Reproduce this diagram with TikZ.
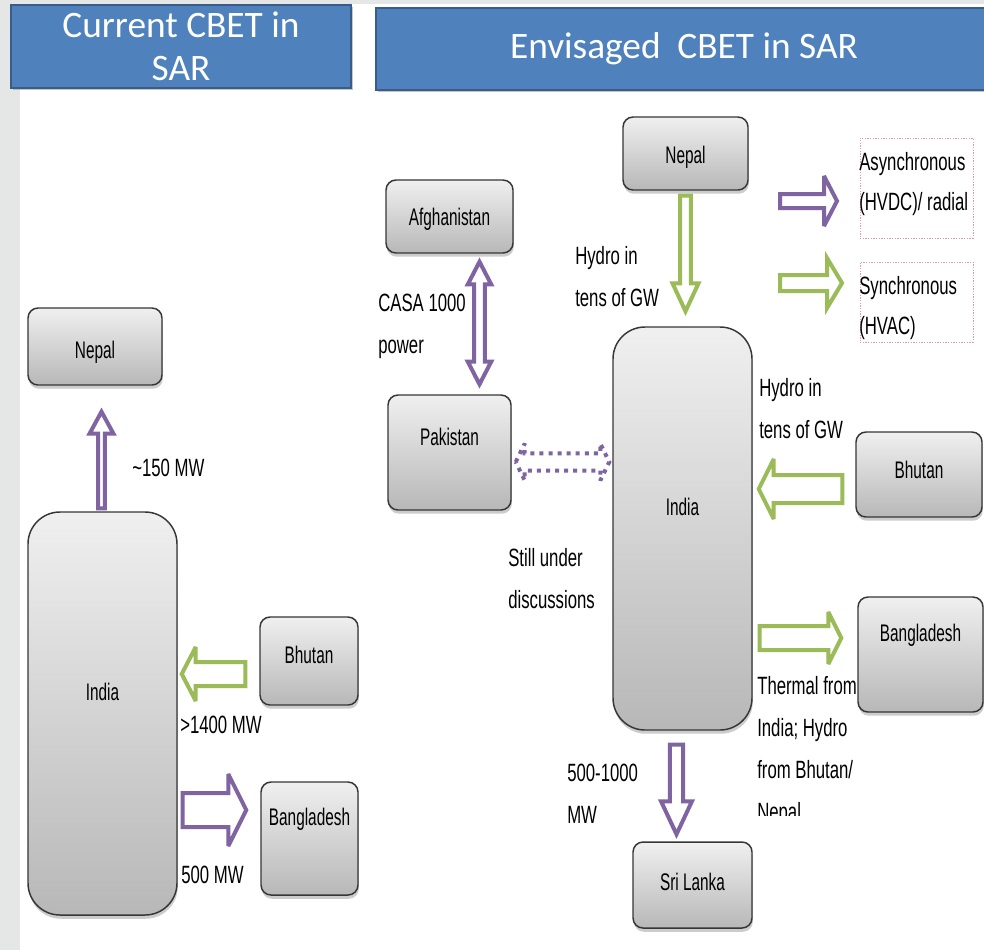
\documentclass[tikz,border=0pt]{standalone}
\usepackage{fontspec}
\setmainfont{Liberation Sans}
\newfontfamily\headfont{Carlito}
\newfontfamily\lblfont[FakeStretch=0.67]{Liberation Sans}
\newfontfamily\cntfont[FakeStretch=0.64]{Liberation Sans}
\usetikzlibrary{calc,shadows}

\definecolor{hdrblue}{HTML}{4F81BD}
\definecolor{hdredge}{HTML}{385D8A}
\definecolor{hvdc}{HTML}{8064A2}
\definecolor{hvac}{HTML}{9BBB59}
\definecolor{boxedge}{HTML}{363636}
\definecolor{legedge}{HTML}{E59AA4}
\definecolor{sidebg}{HTML}{E5E7E7}
\newdimen\pxu \pxu=0.75pt

\tikzset{
  shaftw/.store in=\arShaft, headw/.store in=\arHead, headl/.store in=\arLen,
  shaftw=3pt, headw=9pt, headl=12pt,
  % hollow block arrow from the start point to the tip
  blockarrow/.style={line width=3pt, fill=white, line join=miter, miter limit=4,
    to path={let \p1=(\tikztostart), \p2=(\tikztotarget), \p3=($(\p2)!\arLen!(\p1)$) in
      ($(\p1)!\arShaft!90:(\p2)$) -- ($(\p3)!\arShaft!90:(\p2)$) -- ($(\p3)!\arHead!90:(\p2)$)
      -- (\p2) -- ($(\p3)!\arHead!-90:(\p2)$) -- ($(\p3)!\arShaft!-90:(\p2)$)
      -- ($(\p1)!\arShaft!-90:(\p2)$) -- cycle}},
  % hollow block arrow with a head at both ends
  twinarrow/.style={line width=3pt, fill=white, line join=miter, miter limit=4,
    to path={let \p1=(\tikztostart), \p2=(\tikztotarget), \p3=($(\p2)!\arLen!(\p1)$),
      \p4=($(\p1)!\arLen!(\p2)$) in
      (\p1) -- ($(\p4)!\arHead!90:(\p2)$) -- ($(\p4)!\arShaft!90:(\p2)$)
      -- ($(\p3)!\arShaft!90:(\p2)$) -- ($(\p3)!\arHead!90:(\p2)$) -- (\p2)
      -- ($(\p3)!\arHead!-90:(\p2)$) -- ($(\p3)!\arShaft!-90:(\p2)$)
      -- ($(\p4)!\arShaft!-90:(\p2)$) -- ($(\p4)!\arHead!-90:(\p2)$) -- cycle}},
  dotline/.style={line width=3pt, dash pattern=on 3pt off 3.8pt},
  hdr/.style={fill=hdrblue, draw=hdredge, line width=2pt, text=white, align=center,
    inner sep=0pt, font=\headfont\fontsize{28pt}{32pt}\selectfont,
    drop shadow={opacity=0.45, shadow xshift=1.5pt, shadow yshift=-1.5pt}},
  cbox/.style={draw=boxedge, line width=1.1pt, rounded corners=7.5pt,
    top color=black!6, bottom color=black!28, inner sep=0pt, text height=12.9pt,
    font=\cntfont\fontsize{18pt}{20pt}\selectfont,
    drop shadow={opacity=0.4, shadow xshift=0.6pt, shadow yshift=-2.8pt}},
  bigbox/.style={cbox, rounded corners=24pt},
  lbl/.style={font=\lblfont\fontsize{18.75pt}{31.5pt}\selectfont, align=left,
    inner sep=0pt, anchor=west},
  legtxt/.style={lbl, font=\lblfont\fontsize{18.75pt}{29.5pt}\selectfont},
  legbox/.style={draw=legedge, line width=0.6pt, dash pattern=on 1pt off 1pt, inner sep=0pt},
}

\begin{document}
\begin{tikzpicture}[x=0.75pt, y=-0.75pt]
\useasboundingbox (0,0) rectangle (984,950);
\clip (0,0) rectangle (984,950);

% page background with grey side strip
\fill[sidebg] (0,0) rectangle (984,950);
\fill[white] (20,4) rectangle (984,950);

% headings
\node[hdr, minimum width=340\pxu, minimum height=83\pxu] (hdrCur) at (181,46.5) {Current CBET in\\SAR};
\node[hdr, minimum width=616\pxu, minimum height=82\pxu] (hdrEnv) at (684,49) {Envisaged\ \ CBET in SAR};

% ---- current exchanges ----
\node[cbox, minimum width=134\pxu, minimum height=77\pxu, text height=18.1pt, text depth=0pt] (nepL) at (95,346.5) {Nepal};
\node[bigbox, minimum width=149\pxu, minimum height=403\pxu, text depth=32.25pt] (indL) at (102.5,713.5) {India};
\node[cbox, minimum width=98\pxu, minimum height=88\pxu, text depth=9pt] (bhuL) at (309,661) {Bhutan};
\node[cbox, minimum width=97\pxu, minimum height=113\pxu, text depth=32.25pt] (banL) at (309.5,838.5) {Bangladesh};

\draw[draw=hvdc, blockarrow, shaftw=2.6pt, headw=9pt, headl=16.5pt]
  ($(indL.north)+(-1,-3)$) to ($(nepL.south)+(6.5,26)$);
\draw[draw=hvac, blockarrow, shaftw=9pt, headw=20.25pt, headl=10.5pt]
  ($(bhuL.west)+(-14,13)$) to ($(indL.east)+(4,-39.5)$);
\draw[draw=hvdc, blockarrow, shaftw=12.75pt, headw=27pt, headl=13.5pt]
  ($(indL.east)+(5,96.5)$) to ($(banL.west)+(-14,-28.5)$);

\node[lbl] (capNepL) at (132,468) {\textasciitilde150 MW};
\node[lbl] (capBhuL) at (180,725) {>1400 MW};
\node[lbl] (capBanL) at (181,875) {500 MW};

% ---- envisaged exchanges ----
\node[cbox, minimum width=127\pxu, minimum height=73\pxu, text depth=0pt] (afg) at (449.5,216.5) {Afghanistan};
\node[cbox, minimum width=125\pxu, minimum height=73\pxu, text height=15.15pt, text depth=0pt] (nepR) at (685.5,153.5) {Nepal};
\node[bigbox, minimum width=139\pxu, minimum height=403\pxu, text depth=32.25pt] (indR) at (682.5,528.5) {India};
\node[cbox, minimum width=123\pxu, minimum height=115\pxu, text depth=23.25pt] (pak) at (449.5,452.5) {Pakistan};
\node[cbox, minimum width=126\pxu, minimum height=85\pxu, text depth=6.75pt] (bhuR) at (919,474.5) {Bhutan};
\node[cbox, minimum width=125\pxu, minimum height=115\pxu, text depth=32.25pt] (banR) at (920.5,654.5) {Bangladesh};
\node[cbox, minimum width=119\pxu, minimum height=86\pxu, text depth=4.5pt] (sri) at (692.5,885) {Sri Lanka};

\draw[draw=hvdc, twinarrow, shaftw=4.1pt, headw=8.8pt, headl=17pt]
  ($(afg.south)+(30,8)$) to ($(pak.north)+(30,-10)$);
\draw[draw=hvac, blockarrow, shaftw=4.1pt, headw=9.75pt, headl=21pt]
  ($(nepR.south)+(0,5)$) to ($(indR.north)+(3,-15)$);
\draw[draw=hvac, blockarrow, shaftw=10.5pt, headw=22.5pt, headl=11.25pt]
  ($(bhuR.west)+(-13,14.5)$) to ($(indR.east)+(6,-39.5)$);
\draw[draw=hvac, blockarrow, shaftw=9pt, headw=19.5pt, headl=9.75pt]
  ($(indR.east)+(7,109.5)$) to ($(banR.west)+(-16,-16.5)$);
\draw[draw=hvdc, blockarrow, shaftw=4.9pt, headw=11.6pt, headl=24.75pt]
  ($(indR.south)+(-6,14)$) to ($(sri.north)+(-16,-7)$);
\draw[draw=hvdc, twinarrow, dotline, shaftw=6.4pt, headw=13.9pt, headl=6.75pt]
  ($(pak.east)+(4,9.5)$) to ($(indR.west)+(-3,-66.5)$);

\node[lbl] (capCasa) at (378,326.5) {CASA 1000\\power};
\node[lbl] (capNepR) at (575,277) {Hydro in\\tens of GW};
\node[lbl] (capBhuR) at (759,408.5) {Hydro in\\tens of GW};
\node[lbl] (capPak) at (508,578.5) {Still under\\discussions};
\node[lbl] (capSri) at (567,793.5) {500-1000\\MW};
\begin{scope}
  \clip (745,650) rectangle (857,815);
  \node[lbl] (capBanR) at (757,751) {Thermal from\\India; Hydro\\from Bhutan/\\Nepal};
\end{scope}

% ---- legend ----
\coordinate (lpA) at (780,201);
\coordinate (lpB) at (837,201);
\coordinate (lgA) at (780,283);
\coordinate (lgB) at (842,283);
\draw[draw=hvdc, blockarrow, shaftw=5.25pt, headw=18.75pt, headl=9.75pt] (lpA) to (lpB);
\draw[draw=hvac, blockarrow, shaftw=6pt, headw=18.75pt, headl=11.25pt] (lgA) to (lgB);
\node[legbox, minimum width=113\pxu, minimum height=100\pxu] (legA) at (916.5,188) {};
\node[legbox, minimum width=113\pxu, minimum height=80\pxu] (legS) at (916.5,302) {};
\node[legtxt] (legAt) at (859,184) {Asynchronous\\(HVDC)/ radial};
\node[legtxt] (legSt) at (859,308) {Synchronous\\(HVAC)};
\end{tikzpicture}
\end{document}
